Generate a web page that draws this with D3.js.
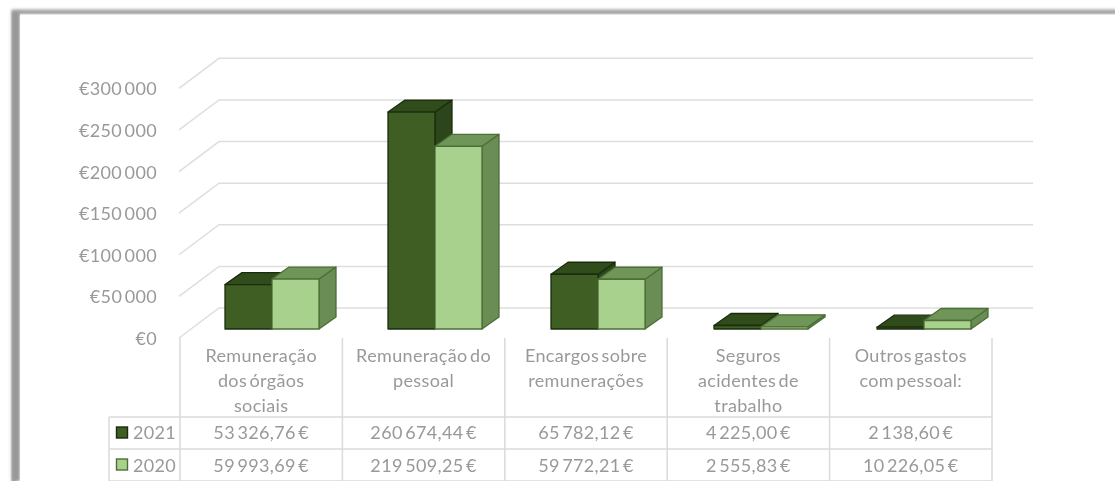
<!DOCTYPE html>
<html><head><meta charset="utf-8">
<style>html,body{margin:0;padding:0;background:#fff;overflow:hidden}svg{display:block;filter:blur(.5px)}text{font-family:Lato,"Open Sans",sans-serif;fill:#999;font-size:18px;word-spacing:-2.5px;letter-spacing:.35px}</style>
<script src="https://cdn.jsdelivr.net/npm/d3@7"></script>
</head><body><svg id="c" width="1115" height="481"></svg>
<script>
const categories=[["Remuneração","dos órgãos","sociais"],["Remuneração do","pessoal"],["Encargos sobre","remunerações"],["Seguros","acidentes de","trabalho"],["Outros gastos","com pessoal:"]];
const years=["2021","2020"];
const values2021=[53326.76,260674.44,65782.12,4225.00,2138.60];
const values2020=[59993.69,219509.25,59772.21,2555.83,10226.05];
const labels2021=["53 326,76 €","260 674,44 €","65 782,12 €","4 225,00 €","2 138,60 €"];
const labels2020=["59 993,69 €","219 509,25 €","59 772,21 €","2 555,83 €","10 226,05 €"];
const ticks=[0,50000,100000,150000,200000,250000,300000];

const svg=d3.select("#c");
const defs=svg.append("defs");
const b=defs.append("filter").attr("id","soft").attr("x","-5%").attr("y","-5%").attr("width","110%").attr("height","110%");
b.append("feGaussianBlur").attr("stdDeviation",1.6);
// frame
svg.append("rect").attr("x",14).attr("y",12).attr("width",1120).attr("height",500).attr("fill","none").attr("stroke","#a2a2a2").attr("stroke-width",5).attr("filter","url(#soft)");
svg.append("rect").attr("x",12).attr("y",12).attr("width",8).attr("height",469).attr("fill","#989898").attr("filter","url(#soft)");
svg.append("rect").attr("x",20).attr("y",14.5).attr("width",1095).attr("height",467).attr("fill","#fff");

const base=329, top300=329-249.7;
const y=d3.scaleLinear().domain([0,300000]).range([base,top300]);
const x=d3.scaleBand().domain(d3.range(5)).range([180,992]);
const xBars=d3.scaleBand().domain(d3.range(5)).range([180,995]);
const colW=x.bandwidth();
const barW=47, dx=17, dy=12;
const barX=i=>xBars(i)+45;

// gridlines
const grid=svg.append("g").attr("fill","none").attr("stroke","#dedede").attr("stroke-width",1.5);
ticks.forEach(t=>{
  const yb=y(t)-21;
  grid.append("path").attr("d",`M179,${yb+30}L219,${yb}L1033,${yb}`);
});
// y labels
svg.append("g").selectAll("text").data(ticks).join("text")
 .attr("x",157).attr("y",t=>y(t)+16).attr("text-anchor","end").text(t=>"€"+d3.format(",")(t).replace(/,/g," "));

// bars
const pal=[{f:"#3e5e23",t:"#304c1b",s:"#2c451a",b:"#1b2c0e"},{f:"#a9d18e",t:"#6f9558",s:"#6a8c55",b:"#4d6f36"}];
function drawBar(i,v,off,c){
  const x0=barX(i)+off*barW, x1=x0+barW, yt=y(v), g=svg.append("g").attr("stroke",c.b).attr("stroke-width",1.3).attr("stroke-linejoin","round");
  g.append("path").attr("fill",c.s).attr("d",`M${x1},${yt}L${x1+dx},${yt-dy}L${x1+dx},${base-dy}L${x1},${base}Z`);
  g.append("path").attr("fill",c.t).attr("d",`M${x0},${yt}L${x0+dx},${yt-dy}L${x1+dx},${yt-dy}L${x1},${yt}Z`);
  g.append("rect").attr("x",x0).attr("y",yt).attr("width",barW).attr("height",base-yt).attr("fill",c.f);
}
d3.range(5).forEach(i=>{drawBar(i,values2021[i],0,pal[0]);drawBar(i,values2020[i],1,pal[1]);});

// data table
const tg=svg.append("g").attr("stroke","#dadada").attr("stroke-width",1.5);
const rowY=[417,449,481];
d3.range(6).forEach(i=>{const px=i<5?x(i):992;tg.append("line").attr("x1",px).attr("x2",px).attr("y1",338).attr("y2",481);});
tg.append("line").attr("x1",109).attr("x2",109).attr("y1",417).attr("y2",481);
rowY.forEach(r=>tg.append("line").attr("x1",109).attr("x2",992).attr("y1",r).attr("y2",r));

categories.forEach((lines,i)=>{
  lines.forEach((l,k)=>svg.append("text").attr("x",x(i)+colW/2).attr("y",362+k*25).attr("text-anchor","middle").text(l));
});
[labels2021,labels2020].forEach((row,r)=>{
  row.forEach((l,i)=>svg.append("text").attr("x",x(i)+colW/2).attr("y",439+r*33).attr("text-anchor","middle").text(l));
  svg.append("rect").attr("x",116.5).attr("y",427+r*32).attr("width",11).attr("height",11).attr("fill",pal[r].f).attr("stroke",r?"#4d6f36":"#1b2c0e").attr("stroke-width",1.4);
  svg.append("text").attr("x",133).attr("y",439+r*33).text(years[r]);
});
</script></body></html>
